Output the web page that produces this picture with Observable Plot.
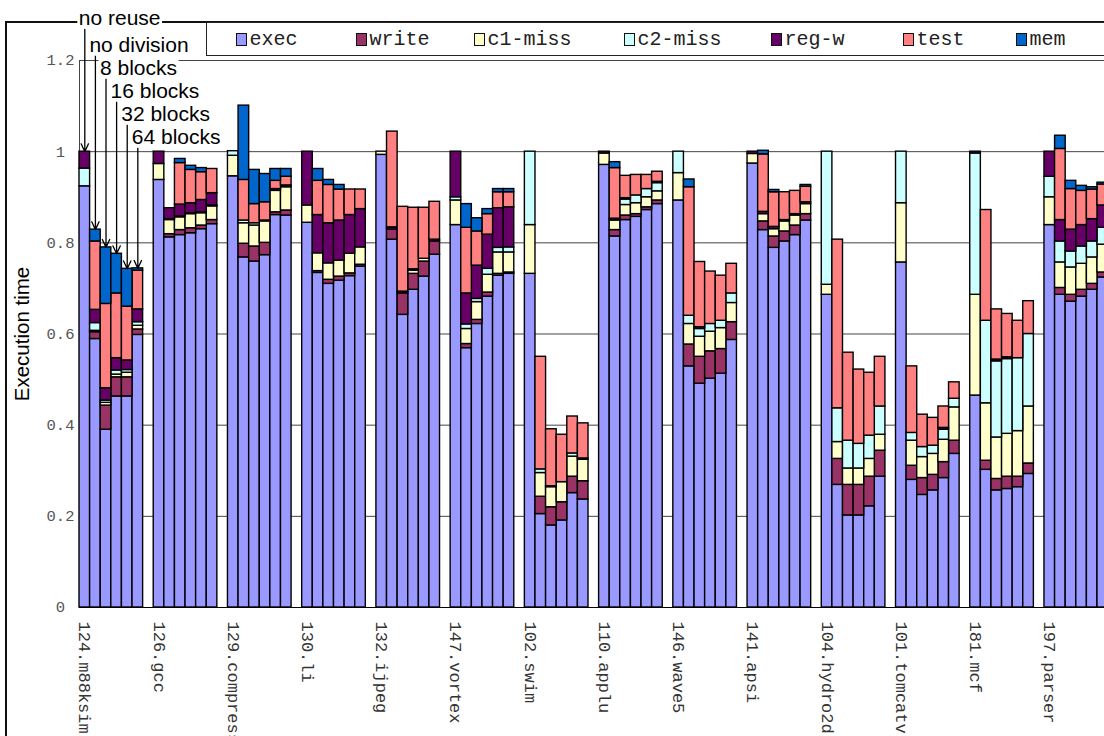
<!DOCTYPE html>
<html><head><meta charset="utf-8">
<script src="https://cdn.jsdelivr.net/npm/d3@7"></script>
<script src="https://cdn.jsdelivr.net/npm/@observablehq/plot@0.6"></script>
<style>
html,body{margin:0;padding:0;background:#fff;width:1104px;height:736px;overflow:hidden;}
#wrap{position:relative;width:1104px;height:736px;overflow:hidden;}
#frame{position:absolute;left:5px;top:21px;width:1200px;height:800px;border-left:2px solid #111;border-top:2px solid #111;z-index:0;}
#chart{position:absolute;left:0;top:0;z-index:1;}
#legend{position:absolute;left:206px;top:22px;width:960px;height:32px;border:1.5px solid #222;background:#fff;z-index:2;font-family:"Liberation Mono",monospace;font-size:20px;color:#222;}
.item{position:absolute;top:0;height:32px;display:flex;align-items:center;white-space:nowrap;}
.sw{width:9px;height:11px;border:1.4px solid #111;margin-right:3px;}
</style></head>
<body><div id="wrap"><div id="frame"></div><div id="chart"></div><div id="legend"></div></div>
<script>
const groups = ["124.m88ksim","126.gcc","129.compress","130.li","132.ijpeg","147.vortex","102.swim","110.applu","146.wave5","141.apsi","104.hydro2d","101.tomcatv","181.mcf","197.parser"];
const configs = ["no reuse","no division","8 blocks","16 blocks","32 blocks","64 blocks"];
const seriesNames = ["exec","write","c1-miss","c2-miss","reg-w","test","mem"];
const seriesColors = ["#9999ff","#993366","#ffffcc","#ccffff","#660066","#ff8080","#0066cc"];
const yTicks = [0, 0.2, 0.4, 0.6, 0.8, 1, 1.2];

const exec = [
.924,.589,.390,.463,.463,.598,
.938,.812,.817,.821,.830,.841,
.946,.768,.759,.773,.861,.860,
.844,.734,.710,.717,.727,.748,
.993,.807,.642,.697,.726,.774,
.839,.569,.622,.682,.728,.732,
.732,.205,.180,.191,.251,.237,
.971,.814,.850,.857,.872,.885,
.893,.529,.491,.502,.513,.587,
.974,.828,.789,.803,.817,.849,
.686,.269,.202,.202,.222,.287,
.757,.280,.247,.257,.284,.337,
.465,.302,.257,.260,.264,.293,
.839,.686,.671,.682,.697,.724];
const write = [
0,.015,.053,.042,.042,.012,
0,.007,.011,.011,.008,.009,
0,.030,.033,.027,.006,.011,
0,.004,.009,.009,.006,.004,
0,.022,.047,.035,.033,.029,
0,.009,.009,.009,.004,.003,
0,.038,.040,.040,.036,.040,
0,.014,.010,.006,.006,.008,
0,.048,.059,.060,.054,.039,
0,.019,.025,.022,.021,.014,
0,.057,.067,.067,.065,.057,
0,.031,.037,.034,.035,.029,
0,.020,.025,.027,.023,.023,
0,.015,.015,.015,.013,.011];
const c1miss = [
0,.003,.006,.006,.010,.008,
.035,.031,.028,.031,.027,.030,
.045,.045,.046,.047,.047,.051,
.038,.039,.036,.035,.043,.038,
.007,0,0,.007,.006,0,
.054,.033,.039,.039,.047,.044,
.107,.052,.044,.044,.044,.047,
.025,.021,.023,.024,.022,.020,
.060,.045,.044,.043,.046,.042,
.021,.016,.016,.022,.022,.022,
.022,.037,.036,.036,.039,.035,
.130,.055,.046,.046,.049,.073,
.221,.126,.091,.094,.100,.125,
.061,.056,.060,.057,.058,.061];
const c2miss = [
.039,.017,.005,.009,.006,.008,
0,.002,.002,.002,.002,.002,
.010,.006,.005,.002,0,0,
0,0,0,0,0,0,
0,0,0,0,0,0,
.007,.010,.007,.013,.010,.011,
.161,.008,.002,0,.007,.003,
0,0,.012,.017,.018,.018,
.047,.018,.017,.017,.016,.021,
0,0,0,0,0,0,
.292,.074,.061,.054,.051,.062,
.113,.017,.022,.018,.022,.019,
.310,.181,.167,.164,.160,.159,
.045,.046,.035,.038,.035,.037];
const regw = [
.037,.029,.027,.027,.021,.028,
.027,.024,.026,.022,.027,.027,
0,0,0,0,.004,.004,
.118,.084,.088,.088,.085,.084,
0,.005,.004,.003,0,.004,
.100,.068,.073,.075,.087,.088,
0,0,0,0,0,0,
.004,.004,.003,0,0,.003,
0,0,.004,0,0,0,
.005,.005,.005,.003,.003,.004,
0,0,0,0,0,0,
0,0,0,0,.004,0,
.004,0,.004,.004,0,0,
.055,.047,.048,.047,.049,.049];
const test = [
0,.150,.185,.142,.118,.085,
0,0,.091,.073,.061,.053,
0,.089,.042,.040,.018,.019,
0,.075,.084,.068,.056,.043,
0,.210,.186,.135,.112,.083,
0,.144,.075,.045,.035,.033,
0,.247,.125,.104,.081,.077,
0,.111,.049,.045,.031,.022,
0,.282,.143,.115,.099,.065,
0,.126,.076,.061,.051,.034,
0,.370,.193,.163,.138,.109,
0,.146,.071,.061,.047,.036,
0,.243,.110,.095,.082,.072,
0,.156,.089,.075,.065,.046];
const mem = [
0,.026,.124,.087,.083,.005,
0,0,.009,.009,.009,0,
0,.163,.075,.062,.026,.017,
0,.026,.011,.010,0,0,
0,0,0,0,0,0,
0,.052,.029,.011,.007,.007,
0,0,0,0,0,0,
0,.013,0,0,0,0,
0,.017,0,0,0,0,
0,.008,.005,0,0,.004,
0,0,0,0,0,0,
0,0,0,0,0,0,
0,0,0,0,0,0,
0,.029,.018,.011,.005,.004];

const seriesValues = [exec, write, c1miss, c2miss, regw, test, mem];
const key = (g, c) => g + "|" + c;
const slots = groups.flatMap(g => [...configs.map(c => key(g, c)), key(g, "gap")]);

const rows = [];
seriesNames.forEach((s, si) => {
  groups.forEach((g, gi) => configs.forEach((c, ci) => {
    const v = seriesValues[si][gi * 6 + ci];
    if (v > 0) rows.push({slot: key(g, c), series: s, value: v});
  }));
});

// annotation for first benchmark group
const level = i => i === 0 ? 1.276 : 1.217 - (i - 1) * 0.0505;
const annot = configs.map((c, ci) => ({
  slot: key(groups[0], c),
  label: c,
  level: level(ci),
  total: d3.sum(seriesValues, arr => arr[ci])
}));

const mono = "'Liberation Mono', 'DejaVu Sans Mono', monospace";
const sans = "'Liberation Sans', Arial, sans-serif";

const plot = Plot.plot({
  width: 1104, height: 736,
  marginLeft: 79, marginRight: -14.2, marginTop: 60, marginBottom: 129,
  x: {domain: slots, padding: 0, axis: null},
  y: {domain: [0, 1.2], axis: null},
  color: {domain: seriesNames, range: seriesColors},
  style: {background: "transparent", overflow: "hidden"},
  marks: [
    Plot.ruleY(yTicks, {stroke: "#444", strokeWidth: 1}),
    Plot.frame({stroke: "#444", strokeWidth: 1}),
    Plot.barY(rows, {x: "slot", y: "value", fill: "series", order: seriesNames, stroke: "#000", strokeWidth: 1.4}),
    Plot.ruleY([0], {stroke: "#000", strokeWidth: 1}),
    Plot.text(yTicks, {y: d => d, text: d => String(d), frameAnchor: "left", dx: -19, textAnchor: "middle",
      fontFamily: mono, fontSize: 15.5, fill: "#555"}),
    Plot.text(["Execution time"], {text: d => d, frameAnchor: "left", dx: -57, rotate: -90,
      textAnchor: "middle", lineAnchor: "middle", fontFamily: sans, fontSize: 20.5, fill: "#000"}),
    Plot.text(groups, {x: g => key(g, configs[0]), text: d => d, frameAnchor: "bottom", dy: 14, rotate: 90,
      textAnchor: "start", lineAnchor: "middle", fontFamily: mono, fontSize: 17, fill: "#333"}),
    Plot.arrow(annot, {x1: "slot", x2: "slot", y1: "level", y2: "total", stroke: "#000", strokeWidth: 1.3,
      headLength: 10, headAngle: 50}),
    Plot.text(annot, {x: "slot", y: "level", text: "label", textAnchor: "start", lineAnchor: "bottom", dx: -6, dy: -1,
      fontFamily: sans, fontSize: 21, fill: "#000"})
  ]
});
document.getElementById("chart").appendChild(plot);

// white boxes behind the annotation labels
const svg = plot.tagName.toLowerCase() === "svg" ? plot : plot.querySelector("svg");
const textGroups = svg.querySelectorAll('g[aria-label="text"]');
const annG = textGroups[textGroups.length - 1];
const svgRect = svg.getBoundingClientRect();
const boxG = document.createElementNS("http://www.w3.org/2000/svg", "g");
annG.querySelectorAll("text").forEach(t => {
  const r = t.getBoundingClientRect();
  const rect = document.createElementNS("http://www.w3.org/2000/svg", "rect");
  rect.setAttribute("x", r.left - svgRect.left - 1.5);
  rect.setAttribute("y", r.top - svgRect.top + 2);
  rect.setAttribute("width", r.width + 3);
  rect.setAttribute("height", r.height - 2);
  rect.setAttribute("fill", "#fff");
  boxG.appendChild(rect);
});
annG.parentNode.insertBefore(boxG, annG);

// legend
const legendX = [28.5, 148.5, 266.5, 416.5, 563.5, 695.5, 808.5];
const legend = document.getElementById("legend");
seriesNames.forEach((s, i) => {
  const it = document.createElement("div");
  it.className = "item";
  it.style.left = legendX[i] + "px";
  const sw = document.createElement("span");
  sw.className = "sw";
  sw.style.background = seriesColors[i];
  const tx = document.createElement("span");
  tx.textContent = s;
  it.appendChild(sw); it.appendChild(tx);
  legend.appendChild(it);
});
</script>
</body></html>
